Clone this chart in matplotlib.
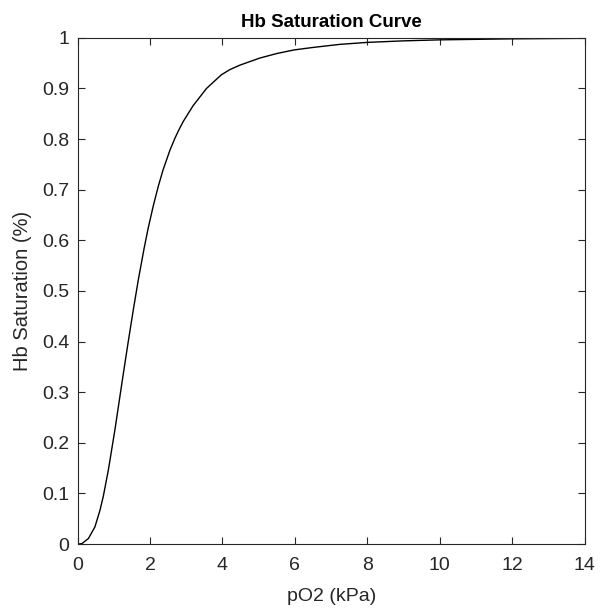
import matplotlib
matplotlib.use("Agg")
import matplotlib.pyplot as plt

# values
po2 = [0, 0.12, 0.30, 0.48, 0.62, 0.71, 0.85, 1.03, 1.25, 1.40, 1.54, 1.68,
       1.84, 1.95, 2.09, 2.23, 2.36, 2.55, 2.69, 2.81, 2.92, 3.19, 3.56, 3.97,
       4.20, 4.48, 5.03, 5.50, 5.97, 6.50, 7.23, 8.0, 9.0, 10.0, 12.0, 14.0]
sat = [0, 0.001, 0.011, 0.034, 0.067, 0.094, 0.146, 0.225, 0.330, 0.400, 0.463, 0.523,
       0.585, 0.624, 0.668, 0.707, 0.739, 0.778, 0.802, 0.820, 0.835, 0.866, 0.900, 0.927,
       0.937, 0.946, 0.960, 0.969, 0.976, 0.981, 0.987, 0.991, 0.994, 0.996, 0.998, 0.999]
xticks = [0, 2, 4, 6, 8, 10, 12, 14]
yticks = [0, 0.1, 0.2, 0.3, 0.4, 0.5, 0.6, 0.7, 0.8, 0.9, 1]

plt.rcParams['font.family'] = ['Liberation Sans', 'DejaVu Sans']
fg = '#262626'

fig = plt.figure(figsize=(6.01, 6.10), dpi=100)
ax = fig.add_axes([0.129, 0.108, 0.844, 0.830])
ax.plot(po2, sat, color='black', lw=1.0)

ax.set_xlim(0, 14)
ax.set_ylim(0, 1)
ax.set_xticks(xticks)
ax.set_xticklabels([str(t) for t in xticks])
ax.set_yticks(yticks)
ax.set_yticklabels(['0' if t == 0 else ('1' if t == 1 else str(t)) for t in yticks])
ax.tick_params(direction='in', top=True, right=True, length=5, width=0.8,
               colors=fg, labelsize=14)
ax.tick_params(axis='x', pad=9)
ax.tick_params(axis='y', pad=6)
for s in ax.spines.values():
    s.set_color(fg)
    s.set_linewidth(0.8)

ax.set_xlabel('pO2 (kPa)', fontsize=14, color=fg, labelpad=10)
ax.set_ylabel('Hb Saturation (%)', fontsize=14.5, color=fg, labelpad=7)
ax.set_title('Hb Saturation Curve', fontsize=13.5, fontweight='bold', color='black', pad=8)

fig.savefig('out.png', dpi=100)
